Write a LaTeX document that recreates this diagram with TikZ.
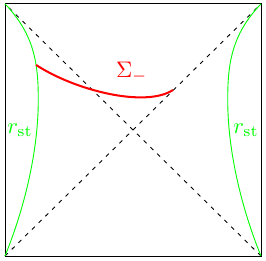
\documentclass[tikz,border=0pt]{standalone}
\usetikzlibrary{positioning}
\tikzset{
  horizon/.style={dash pattern=on 1.8pt off 2.4pt},
  statline/.style={green,line width=0.4pt},
  slice/.style={red,line width=0.9pt}
}
\begin{document}
\begin{tikzpicture}
  \useasboundingbox (-0.078,-0.0625) rectangle (4.078,4.0);
  \coordinate (bl) at (0,0);
  \coordinate (br) at (4,0);
  \coordinate (tl) at (0,3.94);
  \coordinate (tr) at (4,3.94);

  \draw (bl) rectangle (tr);
  \draw[horizon] (bl) -- (tr);
  \draw[horizon] (br) -- (tl);

  \draw[statline] (tl) .. controls (0.47,3.45) and (0.52,2.98) .. coordinate[pos=0.65] (s0) (0.52,2.44)
    .. controls (0.52,1.5) and (0.23,0.56) .. (bl);
  \draw[statline] (tr) .. controls (3.53,3.45) and (3.48,2.98) .. (3.48,2.44)
    .. controls (3.48,1.5) and (3.77,0.56) .. (br);

  \coordinate (s1) at (2.625,2.594);
  \draw[slice] (s0) .. controls (1.09,2.59) and (2.19,2.31) .. (s1);

  \node[red] (sig) at (1.98,2.875) {$\Sigma_-$};
  \node[green] (rl) at (0.234,1.97) {$r_{\mathrm{st}}$};
  \node[green] (rr) at (3.766,1.97) {$r_{\mathrm{st}}$};
\end{tikzpicture}
\end{document}
